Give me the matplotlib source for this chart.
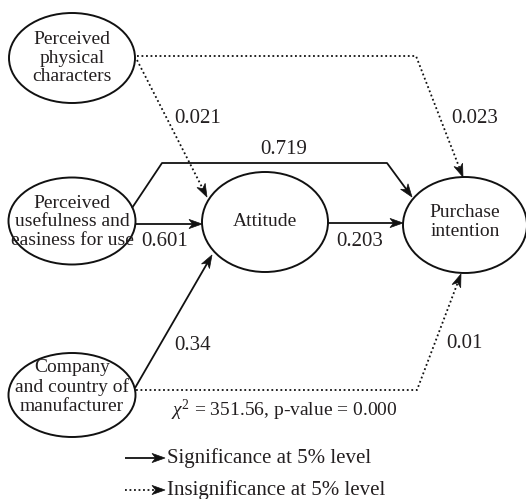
import numpy as np
import matplotlib
matplotlib.use("Agg")
import matplotlib.pyplot as plt
from matplotlib.patches import Ellipse, Polygon

plt.rcParams['font.family'] = ['Liberation Serif', 'DejaVu Serif']
plt.rcParams['mathtext.fontset'] = 'custom'
plt.rcParams['mathtext.rm'] = 'Liberation Serif'
plt.rcParams['mathtext.it'] = 'Liberation Serif:italic'

# ---- data ----
node_names = ["Perceived\nphysical\ncharacters",
              "Perceived\nusefulness and\neasiness for use",
              "Company\nand country of\nmanufacturer",
              "Attitude",
              "Purchase\nintention"]
path_coef = ["0.021", "0.023", "0.719", "0.601", "0.203", "0.34", "0.01"]
path_significant = [False, False, True, True, True, True, False]
fit_text = r"$\chi^{2}$ = 351.56, p-value = 0.000"
legend_labels = ["Significance at 5% level", "Insignificance at 5% level"]
legend_significant = [True, False]

# ---- layout (pixel coordinates) ----
node_xy = [(72, 58), (72, 221), (72, 395), (265, 222), (465, 225)]
node_wh = [(126, 90), (127, 87), (127, 84), (126, 100), (124, 96)]
node_text_y = [58, 222, 387, 222, 222]
path_routes = [
    [(137, 60), (207, 197)],
    [(137, 56), (416, 56), (463, 177)],
    [(132, 208), (162, 163), (387, 163), (412, 197)],
    [(135, 224), (202, 224)],
    [(327, 223), (403, 223)],
    [(135, 388), (212, 255)],
    [(136, 390), (417, 390), (461, 274)],
]
label_xy = [(198, 118), (475, 118), (284, 150), (165, 242), (360, 241), (193, 345), (464, 344)]
leg_y = [458, 490]

FS_NODE = 14
FS = 15
TXT = '#231f20'
fig = plt.figure(figsize=(5.26, 4.99), dpi=100)
ax = fig.add_axes([0, 0, 1, 1])
ax.set_xlim(0, 526)
ax.set_ylim(499, 0)
ax.axis('off')

DOT = (0, (1.0, 1.5))


def arrowhead(p0, p1, L=13, W=4.6, notch=0.72):
    p0 = np.array(p0, float)
    p1 = np.array(p1, float)
    d = p1 - p0
    d /= np.hypot(*d)
    n = np.array([-d[1], d[0]])
    base = p1 - d * L
    pts = [p1, base + n * W, p1 - d * L * notch, base - n * W]
    ax.add_patch(Polygon(pts, closed=True, facecolor='#111111', edgecolor='#111111',
                         lw=0.5, zorder=4))


def route(points, sig):
    pts = np.array(points, float)
    end = pts.copy()
    d = end[-1] - end[-2]
    d /= np.hypot(*d)
    end[-1] = end[-1] - d * 8
    ax.plot(end[:, 0], end[:, 1], color='#111111', lw=1.3,
            linestyle='-' if sig else DOT, solid_capstyle='butt', zorder=3)
    arrowhead(pts[-2], pts[-1])


for (x, y), (w, h), name, ty in zip(node_xy, node_wh, node_names, node_text_y):
    ax.add_patch(Ellipse((x, y), w, h, facecolor='white', edgecolor='#111111', lw=1.4, zorder=2))
    ax.text(x, ty, name, ha='center', va='center', fontsize=FS_NODE, linespacing=1.12,
            color=TXT, zorder=5)

for r, sig, lab, (lx, ly) in zip(path_routes, path_significant, path_coef, label_xy):
    route(r, sig)
    ax.text(lx, ly, lab, ha='center', va='center', fontsize=FS, color=TXT, zorder=5)

ax.text(284, 410, fit_text, ha='center', va='center', fontsize=14, color=TXT)

for lab, sig, y in zip(legend_labels, legend_significant, leg_y):
    route([(125, y), (165, y)], sig)
    ax.text(167, y, lab, ha='left', va='center', fontsize=FS, color=TXT)

fig.savefig("out.png", dpi=100)
